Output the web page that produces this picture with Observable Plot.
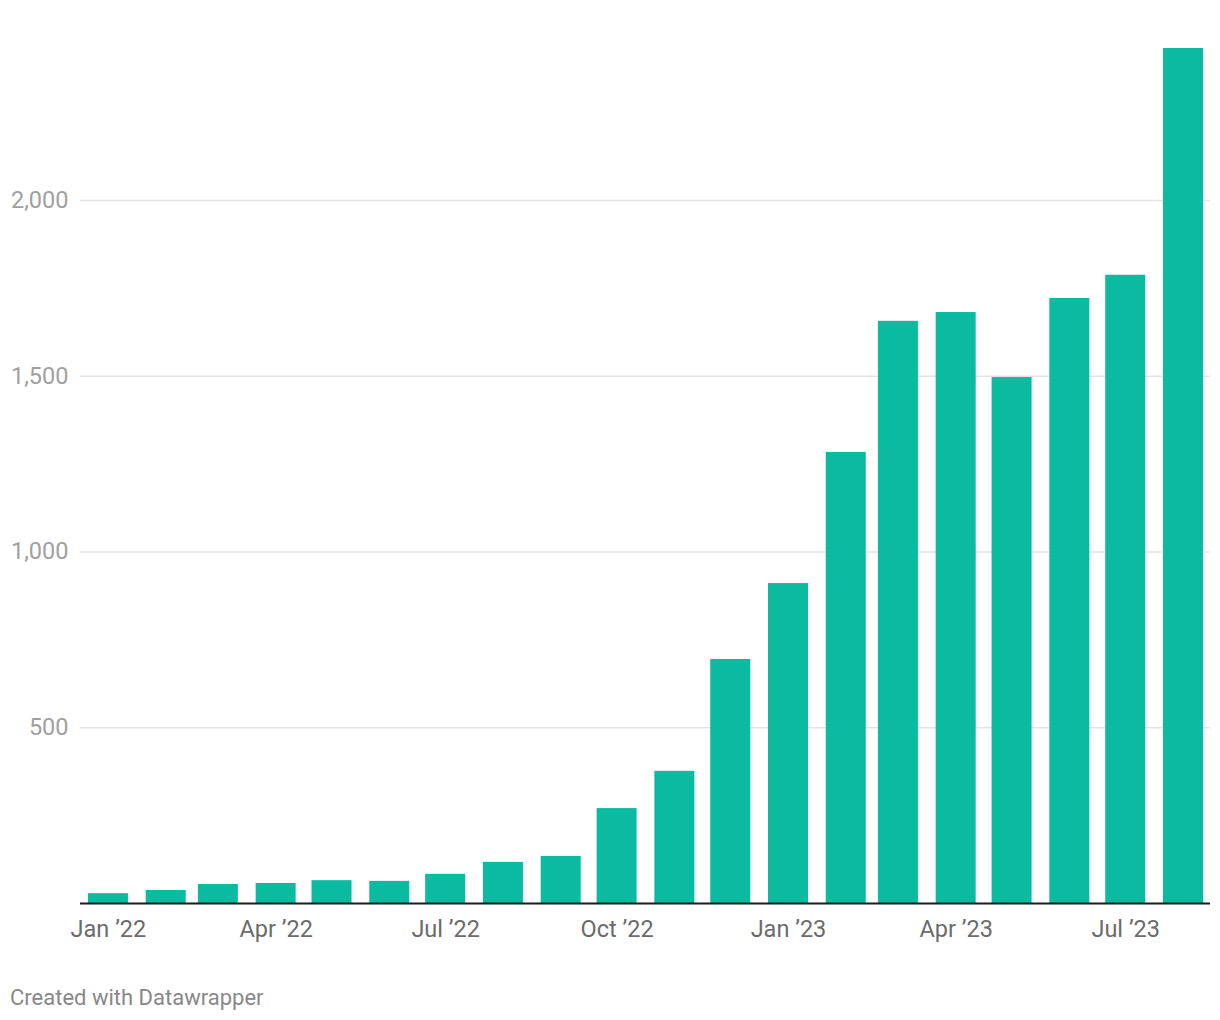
<!DOCTYPE html>
<html>
<head>
<meta charset="utf-8">
<script src="https://cdn.jsdelivr.net/npm/d3@7"></script>
<script src="https://cdn.jsdelivr.net/npm/@observablehq/plot@0.6"></script>
<style>
  html, body { margin: 0; padding: 0; background: #fff; }
  body { width: 1220px; height: 1020px; font-family: Roboto, "Noto Sans", sans-serif; }
  #chart svg { display: block; }
  .footer { font-family: Roboto, sans-serif; font-size: 22px; color: #888; margin: 25px 0 0 10px; line-height: 26px; }
</style>
</head>
<body>
<div id="chart"></div>
<div class="footer">Created with Datawrapper</div>
<script>
const months = [
  "2022-01","2022-02","2022-03","2022-04","2022-05","2022-06","2022-07","2022-08","2022-09","2022-10","2022-11","2022-12",
  "2023-01","2023-02","2023-03","2023-04","2023-05","2023-06","2023-07","2023-08"
];
const values = [28, 37, 54, 57, 65, 63, 83, 117, 134, 270, 376, 694, 910, 1283, 1656, 1681, 1496, 1721, 1787, 2432];
const yTicks = [500, 1000, 1500, 2000];
const xTicks = ["2022-01","2022-04","2022-07","2022-10","2023-01","2023-04","2023-07"];

const parse = d3.utcParse("%Y-%m");
const data = months.map((m, i) => ({date: parse(m), value: values[i]}));
const fmtMonth = d3.utcFormat("%b");
const fmtYear = d3.utcFormat("%y");

const chart = Plot.plot({
  width: 1220,
  height: 960,
  marginLeft: 80,
  marginRight: 10,
  marginTop: 48,
  marginBottom: 57,
  style: {fontFamily: "Roboto, sans-serif", fontSize: "23.5px", background: "#fff"},
  x: {
    type: "utc",
    domain: [new Date(Date.UTC(2021, 11, 17)), new Date(Date.UTC(2023, 7, 15, 12))],
    label: null
  },
  y: {
    domain: [0, 2432],
    label: null
  },
  marks: [
    Plot.ruleY(yTicks, {stroke: "#e3e3e3", strokeWidth: 1.5}),
    Plot.rectY(data, {x1: "date", x2: "date", y: "value", fill: "#0bbba0", insetLeft: -20, insetRight: -20}),
    Plot.ruleY([0], {stroke: "#1d1d1d", strokeWidth: 2}),
    Plot.axisY({ticks: yTicks, tickFormat: d3.format(","), tickSize: 0, tickPadding: 12, color: "#a0a0a0", fontSize: 23.5}),
    Plot.axisX({ticks: xTicks.map(parse), tickFormat: d => `${fmtMonth(d)} ’${fmtYear(d)}`, tickSize: 0, tickPadding: 17, color: "#6b6b6b", fontSize: 23.5})
  ]
});
document.getElementById("chart").appendChild(chart);
</script>
</body>
</html>
